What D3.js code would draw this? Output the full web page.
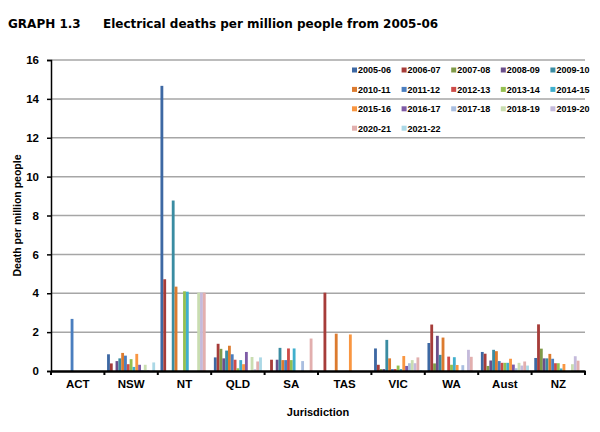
<!DOCTYPE html>
<html><head><meta charset="utf-8">
<script src="https://cdn.jsdelivr.net/npm/d3@7"></script>
<style>
body{margin:0;background:#fff;}
svg{display:block;}
text{font-family:"Liberation Sans",Arial,sans-serif;font-weight:bold;fill:#000;}
</style></head><body>
<script>
const jurisdictions = ["ACT","NSW","NT","QLD","SA","TAS","VIC","WA","Aust","NZ"];
const years = ["2005-06","2006-07","2007-08","2008-09","2009-10","2010-11","2011-12","2012-13","2013-14","2014-15","2015-16","2016-17","2017-18","2018-19","2019-20","2020-21","2021-22"];
const colors = ["#3d68a3","#a63c39","#7f9a48","#6a4f8b","#3a8ca2","#dc7b2f","#4a7ebf","#cd4b48","#94bf50","#40afcd","#f99641","#7e5ba6","#a9bee0","#c9ddb1","#c4badb","#e2afae","#abd8e6"];
const yTicks = [0,2,4,6,8,10,12,14,16];
// values per jurisdiction, one per year (2005-06 .. 2021-22)
const actVals  = [0,0,0,0,0,0,2.68,0,0,0,0,0,0,0,0,0,0];
const nswVals  = [0.86,0.39,0,0.51,0.65,0.93,0.79,0.35,0.61,0.21,0.88,0.32,0.05,0.32,0.05,0,0.44];
const ntVals   = [14.67,4.72,0,0,8.77,4.34,0,0,4.1,4.08,0,0,0,4.03,4.03,4.03,0];
const qldVals  = [0.7,1.4,1.14,0.65,1.05,1.3,0.86,0.58,0.14,0.56,0.35,0.98,0,0.72,0.09,0.49,0.7];
const saVals   = [0,0.58,0,0.58,1.19,0.56,0.56,1.16,0.56,1.16,0,0,0.51,0,0,1.67,0];
const tasVals  = [0,4.03,0,0,0,1.92,0,0,0,0,1.88,0,0,0,0,0,0];
const vicVals  = [1.16,0.32,0.1,0.1,1.6,0.65,0.1,0.1,0.28,0.1,0.77,0.26,0.4,0.56,0.4,0.7,0.05];
const waVals   = [1.44,2.39,0.39,1.81,0.83,1.72,0,0.74,0.32,0.71,0.31,0,0.3,0,1.09,0.73,0];
const austVals = [0.98,0.89,0.26,0.54,1.09,1.02,0.51,0.42,0.42,0.42,0.63,0.33,0.14,0.42,0.28,0.49,0.28];
const nzVals   = [0.67,2.4,1.15,0.65,0.65,0.88,0.63,0.4,0.4,0.13,0.36,0,0,0.35,0.76,0.53,0];
const valueRows = [actVals,nswVals,ntVals,qldVals,saVals,tasVals,vicVals,waVals,austVals,nzVals];

const W=600,H=432;
const m={left:51,right:15,top:60,bottom:61};
const svg=d3.select("body").append("svg").attr("width",W).attr("height",H);

svg.append("text").attr("x",8).attr("y",28).style("font-family","'DejaVu Sans',Verdana,sans-serif").style("font-size","12px").text("GRAPH 1.3");
svg.append("text").attr("x",103).attr("y",28).style("font-family","'DejaVu Sans',Verdana,sans-serif").style("font-size","12px").text("Electrical deaths per million people from 2005-06");

const x0=d3.scaleBand().domain(jurisdictions).range([m.left,W-m.right]).paddingInner(0.1).paddingOuter(0.05);
const x1=d3.scaleBand().domain(years).range([0,x0.bandwidth()]).padding(0);
const y=d3.scaleLinear().domain([0,16]).range([H-m.bottom,m.top]);

// gridlines
svg.append("g").selectAll("line").data(yTicks.filter(d=>d>0)).join("line")
 .attr("x1",m.left).attr("x2",W-m.right).attr("y1",d=>y(d)).attr("y2",d=>y(d))
 .attr("stroke","#a6a6a6").attr("stroke-width",1.5);

// legend
const lg=svg.append("g");
years.forEach((yr,i)=>{
  const col=i%5,row=Math.floor(i/5);
  const lx=352+col*49.6, ly=70+row*19.4;
  lg.append("rect").attr("x",lx).attr("y",ly-2.5).attr("width",5).attr("height",5).attr("fill",colors[i]);
  lg.append("text").attr("x",lx+6).attr("y",ly+3.3).style("font-size","9px").text(yr);
});

// bars
const table=jurisdictions.map((j,ji)=>({j,vals:valueRows[ji].map((v,i)=>({yr:years[i],v,i}))}));
svg.append("g").selectAll("g").data(table).join("g")
 .attr("transform",d=>`translate(${x0(d.j)},0)`)
 .selectAll("rect").data(d=>d.vals.filter(e=>e.v>0)).join("rect")
 .attr("x",d=>x1(d.yr)).attr("width",x1.bandwidth())
 .attr("y",d=>y(d.v)).attr("height",d=>y(0)-y(d.v))
 .attr("fill",d=>colors[d.i]);

// y axis
const ya=svg.append("g").attr("transform",`translate(${m.left},0)`)
 .call(d3.axisLeft(y).tickValues(yTicks).tickSize(4).tickPadding(8).tickFormat(d3.format("d")));
ya.select(".domain").attr("stroke","#000").attr("stroke-width",1.5);
ya.selectAll(".tick line").attr("stroke","#000").attr("stroke-width",1.5);
ya.selectAll("text").style("font-size","11.5px").style("font-family","'Liberation Sans',Arial,sans-serif");

// x axis
const xa=svg.append("g").attr("transform",`translate(0,${y(0)})`)
 .call(d3.axisBottom(x0).tickSize(0).tickPadding(9));
xa.select(".domain").attr("stroke","#000").attr("stroke-width",2.5);
xa.selectAll("text").style("font-size","11.5px").style("font-family","'Liberation Sans',Arial,sans-serif");
const step=x0.step();
const bounds=d3.range(jurisdictions.length+1).map(i=>m.left+i*(W-m.right-m.left)/jurisdictions.length);
svg.append("g").selectAll("line").data(bounds).join("line")
 .attr("x1",d=>d).attr("x2",d=>d).attr("y1",y(0)).attr("y2",y(0)+4)
 .attr("stroke","#000").attr("stroke-width",2);

svg.append("text").attr("x",(m.left+W-m.right)/2).attr("y",416).attr("text-anchor","middle").style("font-size","11px").text("Jurisdiction");
svg.append("text").attr("transform",`translate(21,${(y(0)+y(16))/2}) rotate(-90)`).attr("text-anchor","middle").style("font-size","10.5px").text("Death per million people");
</script>
</body></html>
